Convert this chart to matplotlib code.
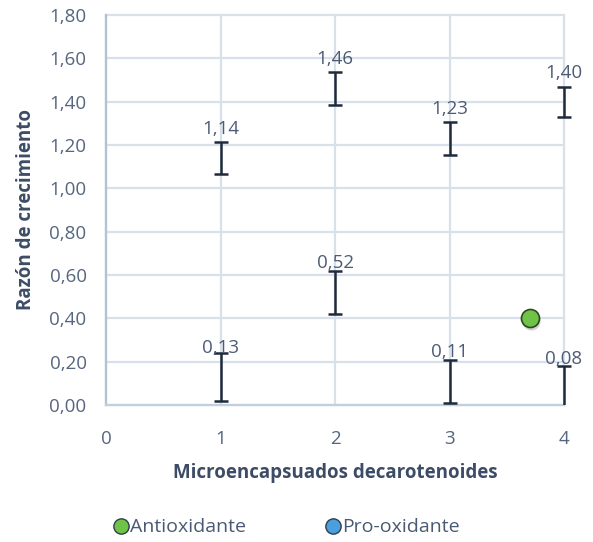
import matplotlib
matplotlib.use("Agg")
import matplotlib.pyplot as plt
import matplotlib.transforms as mtransforms
from matplotlib.lines import Line2D
from matplotlib.patches import Rectangle

# Growth ratio per carotenoid microcapsule
x_vals = [1, 2, 3, 4]
high_vals = [1.14, 1.46, 1.23, 1.40]
high_err = [0.075, 0.076, 0.075, 0.07]
low_vals = [0.13, 0.52, 0.11, 0.08]
low_err = [0.11, 0.10, 0.10, 0.10]

# Single antioxidant point
anti_x = [3.7]
anti_y = [0.40]

y_ticks = [0.0, 0.2, 0.4, 0.6, 0.8, 1.0, 1.2, 1.4, 1.6, 1.8]
x_ticks = [0, 1, 2, 3, 4]

legend_labels = ["Antioxidante", "Pro-oxidante"]
legend_colors = ["#6fc447", "#4a9fdc"]

plt.rcParams['font.family'] = ['Open Sans', 'DejaVu Sans']

tick_color = "#56667f"
title_color = "#3d4c66"
grid_color = "#d8e0e9"
bar_color = "#1f2b3b"

fig = plt.figure(figsize=(5.93, 5.42), dpi=100)
ax = fig.add_axes([106 / 593, 1 - 405 / 542, (564 - 106) / 593, (405 - 15) / 542])

ax.set_xlim(0, 4)
ax.set_ylim(0, 1.8)
ax.set_xticks(x_ticks)
ax.set_yticks(y_ticks)
ax.set_yticklabels([f"{v:.2f}".replace(".", ",") for v in y_ticks])
ax.set_xticklabels([str(v) for v in x_ticks])
ax.tick_params(length=0, labelsize=13.5, labelcolor=tick_color)
ax.tick_params(axis='y', pad=14)
ax.tick_params(axis='x', pad=18)

ax.grid(True, color=grid_color, linewidth=1.6)
ax.set_axisbelow(True)
for gl in ax.get_xgridlines() + ax.get_ygridlines():
    gl.set_clip_on(False)
for side in ["top", "right"]:
    ax.spines[side].set_visible(False)
ax.spines["left"].set_color("#b3c2d3")
ax.spines["left"].set_linewidth(1.6)
ax.spines["bottom"].set_color("#c3cfdc")
ax.spines["bottom"].set_linewidth(1.6)

# clip error bars only at the bottom of the plot area
clip_rect = Rectangle((-0.1, 0.0), 1.2, 1.2, transform=ax.transAxes,
                      facecolor="none", edgecolor="none")

for vals, errs in [(high_vals, high_err), (low_vals, low_err)]:
    eb = ax.errorbar(x_vals, vals, yerr=errs, fmt='none', ecolor=bar_color,
                     elinewidth=1.8, capsize=5, capthick=1.8, zorder=3)
    for art in list(eb[1]) + list(eb[2]):
        art.set_clip_path(clip_rect)
    for xv, yv in zip(x_vals, vals):
        ax.annotate(f"{yv:.2f}".replace(".", ","), (xv, yv), xytext=(0, 21),
                    textcoords="offset points", ha="center", va="center",
                    fontsize=13.5, color="#4d5c76", zorder=4,
                    annotation_clip=False)

# soft shadow under the marker
shadow = ax.transData + mtransforms.ScaledTranslation(1 / 100, -2.5 / 100, fig.dpi_scale_trans)
ax.plot(anti_x, anti_y, 'o', markersize=13, color="#000000", alpha=0.18,
        transform=shadow, zorder=4, markeredgewidth=0)
ax.plot(anti_x, anti_y, 'o', markersize=13, markerfacecolor=legend_colors[0],
        markeredgecolor="#2c4a1c", markeredgewidth=1.2, zorder=5, clip_on=False)

ax.set_xlabel("Microencapsuados decarotenoides", fontsize=13.5, fontweight="bold",
              color=title_color, labelpad=11)
ax.set_ylabel("Razón de crecimiento", fontsize=13.5, fontweight="bold",
              color=title_color, labelpad=10)

handles = [Line2D([0], [0], marker='o', linestyle='none', markersize=11,
                  markerfacecolor=c, markeredgecolor="#2e3e4f", markeredgewidth=1.0)
           for c in legend_colors]
fig.legend(handles, legend_labels, loc="center", bbox_to_anchor=(0.483, 0.027),
           ncol=2, frameon=False, fontsize=14, labelcolor="#4a5a74",
           handlelength=0.8, handletextpad=0.05, columnspacing=4.1)

fig.savefig("out.png", dpi=100)
